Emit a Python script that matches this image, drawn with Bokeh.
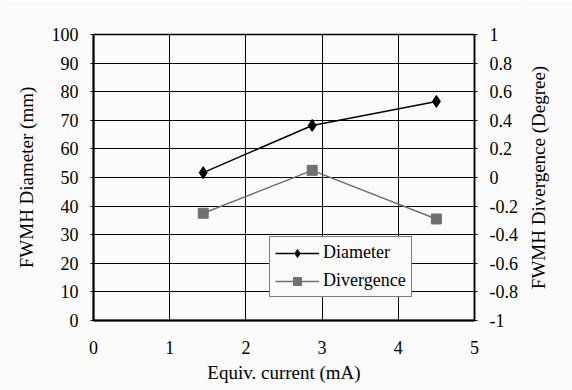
from bokeh.plotting import figure
from bokeh.layouts import row
from bokeh.models import Range1d, LinearAxis, FixedTicker, Legend, LegendItem
from bokeh.embed import file_html
from bokeh.resources import INLINE

# data
current = [1.44, 2.87, 4.5]
diameter = [51.7, 68.2, 76.6]
div_current = [1.44, 2.87, 4.5]
divergence = [-0.25, 0.05, -0.29]

x_ticks = [0, 1, 2, 3, 4, 5]
y_ticks = [0, 10, 20, 30, 40, 50, 60, 70, 80, 90, 100]
y2_ticks = [-1, -0.8, -0.6, -0.4, -0.2, 0, 0.2, 0.4, 0.6, 0.8, 1]
y2_labels = ["-1", "-0.8", "-0.6", "-0.4", "-0.2", "0", "0.2", "0.4", "0.6", "0.8", "1"]
y2_title = "FWMH Divergence (Degree)"

FONT = "'Liberation Serif', 'Times New Roman', serif"
BG = "#fbfbfb"

p = figure(width=524, height=390, output_backend="svg", toolbar_location=None,
           x_range=Range1d(0, 5), y_range=Range1d(0, 100),
           min_border_left=93, min_border_right=50, min_border_top=34, min_border_bottom=70)
p.background_fill_color = BG
p.border_fill_color = BG
p.outline_line_color = "black"
p.outline_line_width = 1.5
p.extra_y_ranges = {"div": Range1d(-1, 1)}

# axes
p.xaxis.ticker = FixedTicker(ticks=x_ticks)
p.yaxis.ticker = FixedTicker(ticks=y_ticks)
p.xaxis.axis_label = "Equiv. current (mA)"
p.yaxis.axis_label = "FWMH Diameter (mm)"

ax2 = LinearAxis(y_range_name="div", ticker=FixedTicker(ticks=y2_ticks))
ax2.major_label_overrides = {t: l for t, l in zip(y2_ticks, y2_labels)}
p.add_layout(ax2, "right")

for ax in [p.xaxis[0], p.yaxis[0], ax2]:
    ax.axis_line_color = "black"
    ax.axis_line_width = 2 if ax is not ax2 else 1.5
    ax.major_tick_line_color = "black"
    ax.major_tick_in = 0
    ax.major_tick_out = 3
    ax.minor_tick_line_color = None
    ax.major_label_text_font = FONT
    ax.major_label_text_font_size = "18px"
    ax.major_label_text_color = "black"
    ax.axis_label_text_font = FONT
    ax.axis_label_text_font_size = "19px"
    ax.axis_label_text_font_style = "normal"
    ax.axis_label_text_color = "black"

p.xaxis.major_tick_line_color = None
p.xaxis.major_label_standoff = 17
p.xaxis.axis_label_standoff = 5
p.yaxis.major_label_standoff = 12
p.yaxis.axis_label_standoff = 12
ax2.major_label_standoff = 12

p.xgrid.ticker = FixedTicker(ticks=[1, 2, 3, 4])
p.xgrid.grid_line_color = "black"
p.xgrid.grid_line_width = 1
p.ygrid.grid_line_color = "black"
p.ygrid.grid_line_width = 1

# series
l1 = p.line(current, diameter, line_color="black", line_width=1.5)
s1 = p.scatter(current, diameter, marker="diamond", size=12, fill_color="black", line_color="black")
l2 = p.line(div_current, divergence, y_range_name="div", line_color="#707070", line_width=1.5)
s2 = p.scatter(div_current, divergence, y_range_name="div", marker="square", size=10,
               fill_color="#707070", line_color="#707070")

legend = Legend(items=[LegendItem(label="Diameter", renderers=[l1, s1]),
                       LegendItem(label="Divergence", renderers=[l2, s2])],
                location=(176, 23))
legend.label_text_font = FONT
legend.label_text_font_size = "18px"
legend.label_text_color = "black"
legend.border_line_color = "black"
legend.border_line_width = 1
legend.background_fill_color = BG
legend.background_fill_alpha = 1
legend.glyph_width = 44
legend.padding = 5
legend.spacing = 7
legend.margin = 0
legend.label_standoff = 4
p.add_layout(legend, "center")

# narrow strip whose left axis carries the right-hand title (reads bottom-to-top)
p2 = figure(width=48, height=390, output_backend="svg", toolbar_location=None,
            x_axis_type=None, min_border_left=0, min_border_right=0,
            min_border_top=34, min_border_bottom=70,
            x_range=Range1d(0, 1), y_range=Range1d(-1, 1))
p2.background_fill_color = BG
p2.border_fill_color = BG
p2.outline_line_color = None
p2.grid.visible = False
ya = p2.yaxis[0]
ya.ticker = FixedTicker(ticks=[])
ya.axis_line_color = None
ya.major_tick_line_color = None
ya.minor_tick_line_color = None
ya.major_label_text_color = None
ya.major_label_standoff = 0
ya.axis_label = y2_title
ya.axis_label_standoff = 2
ya.axis_label_text_font = FONT
ya.axis_label_text_font_size = "19px"
ya.axis_label_text_font_style = "normal"
ya.axis_label_text_color = "black"

open("out.html", "w").write(file_html(row(p, p2, spacing=0), INLINE))
